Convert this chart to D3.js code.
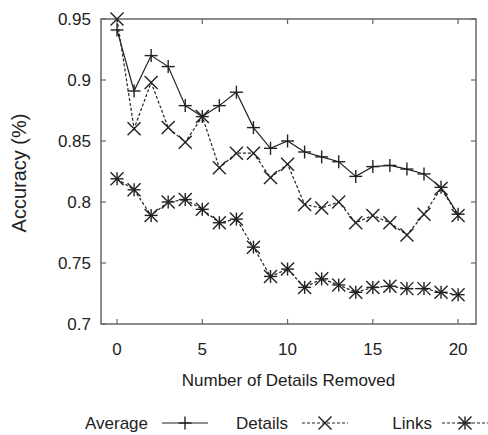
<!DOCTYPE html>
<html>
<head>
<meta charset="utf-8">
<script src="https://cdn.jsdelivr.net/npm/d3@7"></script>
<style>
  body { margin: 0; background: #fff; }
  text { font-family: "Liberation Sans", Arial, sans-serif; fill: #222; }
</style>
</head>
<body>
<script>
// Data
const removed = d3.range(0, 21);
const average = [0.941, 0.891, 0.920, 0.911, 0.879, 0.870, 0.879, 0.890, 0.861, 0.844, 0.850,
                 0.841, 0.837, 0.833, 0.821, 0.829, 0.830, 0.827, 0.823, 0.812, 0.790];
const details = [0.950, 0.860, 0.898, 0.861, 0.849, 0.870, 0.828, 0.840, 0.840, 0.820, 0.831,
                 0.798, 0.795, 0.800, 0.783, 0.789, 0.783, 0.773, 0.790, 0.811, 0.789];
const links   = [0.819, 0.810, 0.789, 0.800, 0.802, 0.794, 0.783, 0.786, 0.763, 0.739, 0.745,
                 0.730, 0.737, 0.732, 0.726, 0.730, 0.731, 0.729, 0.729, 0.726, 0.724];
const xTicks = [0, 5, 10, 15, 20];
const yTicks = [0.7, 0.75, 0.8, 0.85, 0.9, 0.95];
const seriesNames = ["Average", "Details", "Links"];

const width = 488, height = 435;
const plotLeft = 101, plotRight = 476, plotTop = 19, plotBottom = 324;

let svg = d3.select("body").append("svg")
    .attr("width", width)
    .attr("height", height);

let x = d3.scaleLinear().domain([-0.94, 21.05]).range([plotLeft, plotRight]);
let y = d3.scaleLinear().domain([0.7, 0.95]).range([plotBottom, plotTop]);

const frameColor = "#666";
const inkColor = "#222";

// Frame
svg.append("rect")
    .attr("x", plotLeft).attr("y", plotTop)
    .attr("width", plotRight - plotLeft).attr("height", plotBottom - plotTop)
    .attr("fill", "none").attr("stroke", frameColor).attr("stroke-width", 1.5);

// Inward ticks on all four sides
let tickGroup = svg.append("g").attr("stroke", frameColor).attr("stroke-width", 1.2);
xTicks.forEach((t) => {
    tickGroup.append("line").attr("x1", x(t)).attr("x2", x(t)).attr("y1", plotBottom).attr("y2", plotBottom - 5);
    tickGroup.append("line").attr("x1", x(t)).attr("x2", x(t)).attr("y1", plotTop).attr("y2", plotTop + 5);
});
yTicks.forEach((t) => {
    tickGroup.append("line").attr("x1", plotLeft).attr("x2", plotLeft + 5).attr("y1", y(t)).attr("y2", y(t));
    tickGroup.append("line").attr("x1", plotRight).attr("x2", plotRight - 5).attr("y1", y(t)).attr("y2", y(t));
});

// Tick labels
svg.append("g").selectAll("text").data(xTicks).join("text")
    .attr("x", (d) => x(d)).attr("y", plotBottom + 31)
    .attr("text-anchor", "middle").attr("font-size", 17)
    .text((d) => d);
svg.append("g").selectAll("text").data(yTicks).join("text")
    .attr("x", plotLeft - 10).attr("y", (d) => y(d) + 6)
    .attr("text-anchor", "end").attr("font-size", 17)
    .text((d) => d);

// Axis titles
svg.append("text")
    .attr("x", (plotLeft + plotRight) / 2).attr("y", 386)
    .attr("text-anchor", "middle").attr("font-size", 17)
    .text("Number of Details Removed");
svg.append("text")
    .attr("transform", `translate(26, 173) rotate(-90)`)
    .attr("text-anchor", "middle").attr("font-size", 20)
    .text("Accuracy (%)");

// Markers
const r = 6.5;
function plus(g, cx, cy) {
    g.append("line").attr("x1", cx - r).attr("x2", cx + r).attr("y1", cy).attr("y2", cy);
    g.append("line").attr("x1", cx).attr("x2", cx).attr("y1", cy - r).attr("y2", cy + r);
}
function cross(g, cx, cy) {
    g.append("line").attr("x1", cx - r).attr("x2", cx + r).attr("y1", cy - r).attr("y2", cy + r);
    g.append("line").attr("x1", cx - r).attr("x2", cx + r).attr("y1", cy + r).attr("y2", cy - r);
}
function star(g, cx, cy) {
    plus(g, cx, cy);
    cross(g, cx, cy);
}

const series = [
    { name: seriesNames[0], values: average, dash: null, marker: plus },
    { name: seriesNames[1], values: details, dash: "3,2", marker: cross },
    { name: seriesNames[2], values: links, dash: "3,2", marker: star }
];

let line = d3.line().x((d, i) => x(removed[i])).y((d) => y(d));

series.forEach((s) => {
    let g = svg.append("g").attr("stroke", inkColor).attr("fill", "none");
    g.append("path")
        .attr("d", line(s.values))
        .attr("stroke-width", 1.2)
        .attr("stroke-dasharray", s.dash);
    let m = g.append("g").attr("stroke-width", 1.4);
    s.values.forEach((v, i) => s.marker(m, x(removed[i]), y(v)));
});

// Legend
const legendY = 423;
const legendItems = [
    { text: 148, sample: [162, 208] },
    { text: 288, sample: [302, 348] },
    { text: 432, sample: [442, 488] }
];
series.forEach((s, i) => {
    let it = legendItems[i];
    svg.append("text")
        .attr("x", it.text).attr("y", legendY + 6)
        .attr("text-anchor", "end").attr("font-size", 17)
        .text(s.name);
    let g = svg.append("g").attr("stroke", inkColor).attr("fill", "none");
    g.append("line")
        .attr("x1", it.sample[0]).attr("x2", it.sample[1])
        .attr("y1", legendY).attr("y2", legendY)
        .attr("stroke-width", 1.2)
        .attr("stroke-dasharray", s.dash);
    let m = g.append("g").attr("stroke-width", 1.4);
    s.marker(m, (it.sample[0] + it.sample[1]) / 2, legendY);
});
</script>
</body>
</html>
